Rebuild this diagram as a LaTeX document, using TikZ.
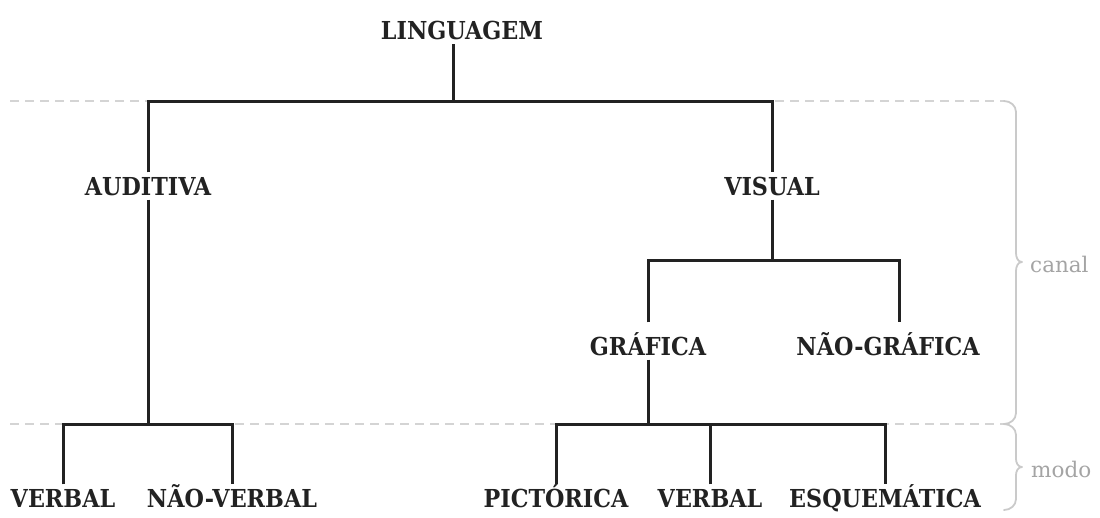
\documentclass[tikz,border=0pt]{standalone}
\usepackage{graphicx}
\usepackage{fontspec}
\setmainfont{DejaVu Serif}
\definecolor{ink}{HTML}{222222}
\definecolor{guide}{HTML}{D4D4D4}
\definecolor{bracec}{HTML}{CACACA}
\definecolor{sidetext}{HTML}{A4A4A4}
\newcommand{\tall}[1]{\scalebox{0.99}[1.1]{#1}}
\begin{document}
\begin{tikzpicture}[x=1pt,y=-1pt,
  lbl/.style={font=\fontsize{22.5}{22.5}\selectfont\bfseries, text=ink, inner xsep=0pt, inner ysep=4.5pt, text height=18pt, text depth=0pt},
  side/.style={font=\fontsize{21.5}{21.5}\selectfont, text=sidetext, anchor=west, inner sep=0pt},
  conn/.style={draw=ink, line width=3pt},
  guideline/.style={draw=guide, line width=1.8pt, dash pattern=on 9pt off 6pt},
  bracepath/.style={draw=bracec, line width=1.8pt, line cap=round, line join=round}]
\useasboundingbox (0,0) rectangle (1100,517);
% guides
\draw[guideline] (10,101) -- (1004,101);
\draw[guideline] (10,424) -- (1004,424);
\draw[bracepath] (1004,101) to[out=0,in=90] (1016,112) -- (1016,253) to[out=-90,in=180] (1022,262) to[out=180,in=90] (1016,271) -- (1016,413) to[out=-90,in=0] (1004,424);
\draw[bracepath] (1004,424) to[out=0,in=90] (1016,435) -- (1016,459) to[out=-90,in=180] (1022,467) to[out=180,in=90] (1016,475) -- (1016,499) to[out=-90,in=0] (1004,510);
\node[side] (canal) at (1030,264) {canal};
\node[side] (modo) at (1031,469) {modo};
% nodes
\node[lbl] (ling) at (462,30.5) {\tall{LINGUAGEM}};
\node[lbl] (aud) at (148,186) {\tall{AUDITIVA}};
\node[lbl] (vis) at (772,186) {\tall{VISUAL}};
\node[lbl] (graf) at (648,346) {\tall{GRÁFICA}};
\node[lbl] (ngraf) at (888,346) {\tall{NÃO-GRÁFICA}};
\node[lbl] (verb1) at (63,498) {\tall{VERBAL}};
\node[lbl] (nverb) at (232,498) {\tall{NÃO-VERBAL}};
\node[lbl] (pict) at (556,498) {\tall{PICTÓRICA}};
\node[lbl] (verb2) at (710,498) {\tall{VERBAL}};
\node[lbl] (esq) at (885,498) {\tall{ESQUEMÁTICA}};
% junctions
\coordinate (j1) at (453,101);
\coordinate (j2) at (772,260);
\coordinate (j3) at (148,424);
\coordinate (j4) at (648,424);
% connectors
\draw[conn] (j1 |- ling.south) -- (j1);
\draw[conn] (aud.north) -- (aud.north |- j1) -- (vis.north |- j1) -- (vis.north);
\draw[conn] (vis.south) -- (j2);
\draw[conn, shorten <=10pt, shorten >=10pt] (graf.north) -- (graf.north |- j2) -- (899,260) -- (899,0 |- ngraf.north);
\draw[conn] (aud.south) -- (j3);
\draw[conn] (verb1.north) -- (verb1.north |- j3) -- (nverb.north |- j3) -- (nverb.north);
\draw[conn] (graf.south) -- (j4);
\draw[conn] (pict.north) -- (pict.north |- j4) -- (esq.north |- j4) -- (esq.north);
\draw[conn] (verb2.north) -- (verb2.north |- j4);
\end{tikzpicture}
\end{document}
